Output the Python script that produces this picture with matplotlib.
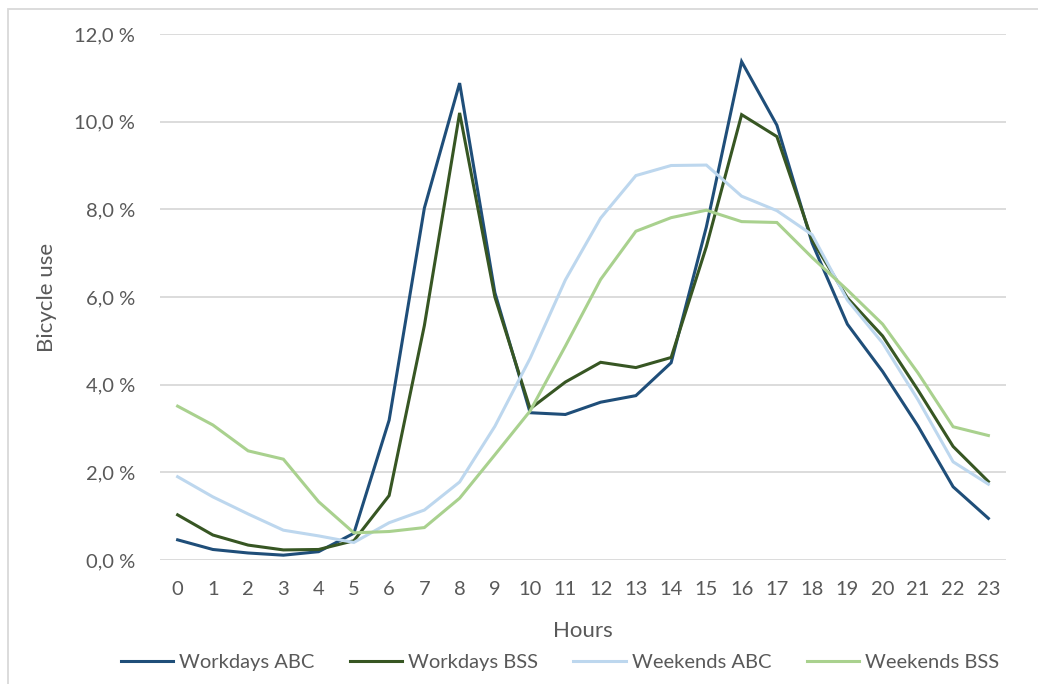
import matplotlib
matplotlib.use("Agg")
import matplotlib.pyplot as plt
from matplotlib.patches import Rectangle

hours = list(range(24))
hour_labels = [str(h) for h in hours]

workdays_abc = [0.46, 0.24, 0.16, 0.11, 0.19, 0.61, 3.19, 8.03, 10.88, 6.10, 3.36, 3.32,
                3.60, 3.75, 4.50, 7.60, 11.37, 9.92, 7.23, 5.38, 4.30, 3.06, 1.67, 0.95]
workdays_bss = [1.03, 0.57, 0.34, 0.23, 0.24, 0.44, 1.47, 5.35, 10.20, 6.00, 3.45, 4.06,
                4.51, 4.39, 4.62, 7.15, 10.16, 9.66, 7.30, 5.98, 5.11, 3.88, 2.59, 1.79]
weekends_abc = [1.90, 1.44, 1.05, 0.68, 0.55, 0.40, 0.85, 1.14, 1.78, 3.05, 4.60, 6.39,
                7.80, 8.77, 9.00, 9.01, 8.30, 7.97, 7.42, 5.93, 4.95, 3.66, 2.24, 1.73]
weekends_bss = [3.51, 3.08, 2.49, 2.30, 1.33, 0.62, 0.65, 0.74, 1.41, 2.40, 3.40, 4.88,
                6.40, 7.50, 7.81, 7.98, 7.72, 7.70, 6.90, 6.16, 5.38, 4.27, 3.04, 2.84]

series = [
    ("Workdays ABC", workdays_abc, "#1f4e79"),
    ("Workdays BSS", workdays_bss, "#375623"),
    ("Weekends ABC", weekends_abc, "#bdd7ee"),
    ("Weekends BSS", weekends_bss, "#a9d18e"),
]

y_ticks = [0, 2, 4, 6, 8, 10, 12]
y_labels = ["0,0 %", "2,0 %", "4,0 %", "6,0 %", "8,0 %", "10,0 %", "12,0 %"]

txt = "#595959"
plt.rcParams['font.family'] = ['Lato', 'DejaVu Sans']

fig = plt.figure(figsize=(10.38, 6.84), dpi=100)
ax = fig.add_axes([160/1038, 1-560/684, (1006-160)/1038, (560-34)/684])

for name, vals, col in series:
    ax.plot(hours, vals, color=col, lw=2.2, label=name, solid_joinstyle='miter')

ax.set_xlim(-0.5, 23.5)
ax.set_ylim(0, 12)
ax.set_yticks(y_ticks)
ax.set_yticklabels(y_labels)
ax.set_xticks(hours)
ax.set_xticklabels(hour_labels)
ax.tick_params(axis='both', length=0, labelsize=14.5, colors=txt)
ax.tick_params(axis='y', pad=18)
ax.tick_params(axis='x', pad=15)
ax.grid(axis='y', color='#d9d9d9', lw=1.3)
ax.set_axisbelow(True)
for s in ax.spines.values():
    s.set_visible(False)

ax.set_xlabel("Hours", fontsize=16, color=txt, labelpad=17)
ax.set_ylabel("Bicycle use", fontsize=16, color=txt, labelpad=12)

leg = fig.legend(loc='center', bbox_to_anchor=(560/1038, 1-662/684), ncol=4,
                 frameon=False, fontsize=14.5, handlelength=2.6, columnspacing=1.75,
                 handletextpad=0.3)
for t in leg.get_texts():
    t.set_color(txt)

fig.patches.append(Rectangle((8/1038, -0.1), 1.2, 1-9/684+0.1, transform=fig.transFigure,
                             fill=False, edgecolor='#d9d9d9', lw=1.3))

fig.savefig("out.png", dpi=100)
